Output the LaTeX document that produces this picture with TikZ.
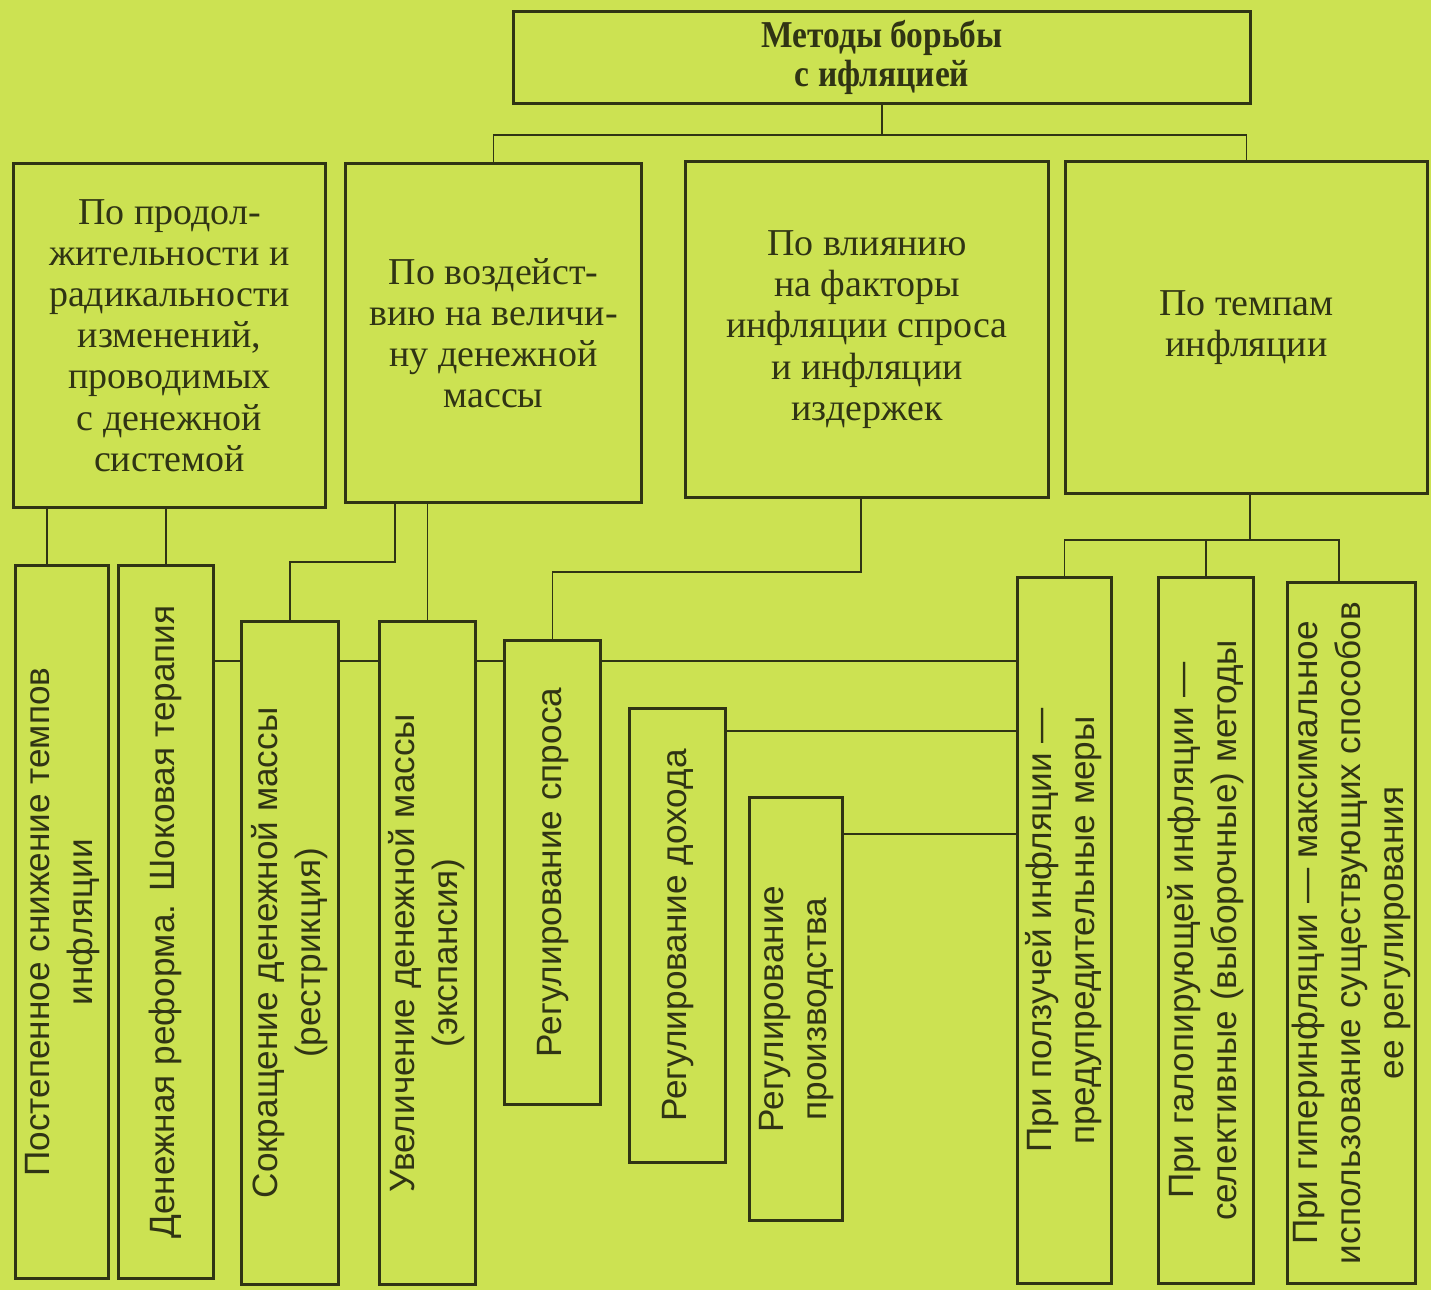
\documentclass[tikz,border=0pt]{standalone}
\usepackage{fontspec}
\setmainfont{Liberation Serif}
\setsansfont{Liberation Sans}
\newfontfamily\titlefont[FakeStretch=0.88]{Liberation Serif}
\usepackage{graphicx}
\usetikzlibrary{positioning, calc}
\definecolor{paper}{RGB}{204,226,82}
\definecolor{ink}{RGB}{48,52,20}
\tikzset{box/.style={draw=ink, line width=0.85pt, text=ink, align=center, inner sep=0pt, font=\fontsize{10.8}{11.7}\selectfont}}
\tikzset{vbox/.style={box, font=\sffamily\fontsize{10}{12.2}\selectfont}}
\tikzset{link/.style={draw=ink, line width=0.55pt}}
\newcommand{\vtext}[1]{\rotatebox{90}{\begin{tabular}{@{}c@{}}#1\end{tabular}}}

\begin{document}
\begin{tikzpicture}[x=0.01cm, y=-0.01cm]

  \fill[paper] (0,0) rectangle (1431,1290);
  \useasboundingbox (0,0) rectangle (1431,1290);

  % root
  \node[box, font=\titlefont\bfseries\fontsize{10.8}{11}\selectfont, minimum width=7.36cm, minimum height=0.91cm] (root) at (882,57.5) {Методы борьбы\\с ифляцией};

  % criteria
  \node[box, minimum width=3.11cm, minimum height=3.43cm] (dur) at (169.5,335.5) {По продол-\\жительности и\\радикальности\\изменений,\\проводимых\\с денежной\\системой};
  \node[box, minimum width=2.95cm, minimum height=3.38cm] (mass) at (493.5,333) {По воздейст-\\вию на величи-\\ну денежной\\массы};
  \node[box, minimum width=3.62cm, minimum height=3.35cm] (fact) at (867,329.5) {По влиянию\\на факторы\\инфляции спроса\\и инфляции\\издержек};
  \node[box, minimum width=3.61cm, minimum height=3.31cm] (rate) at (1246.5,327.5) {По темпам\\инфляции};

  % methods
  \node[vbox, minimum width=0.93cm, minimum height=7.12cm] (grad) at (62,922) {\vtext{Постепенное снижение темпов\\инфляции}};
  \node[vbox, minimum width=0.95cm, minimum height=7.12cm] (shock) at (166,922) {\vtext{Денежная реформа. Шоковая терапия}};
  \node[vbox, minimum width=0.97cm, minimum height=6.62cm] (restr) at (290,953) {\vtext{Сокращение денежной массы\\(рестрикция)}};
  \node[vbox, minimum width=0.96cm, minimum height=6.62cm] (expan) at (427.5,953) {\vtext{Увеличение денежной массы\\(экспансия)}};
  \node[vbox, minimum width=0.95cm, minimum height=4.63cm] (dem) at (552.5,872.5) {\vtext{Регулирование спроса}};
  \node[vbox, minimum width=0.95cm, minimum height=4.53cm] (inc) at (677.5,935.5) {\vtext{Регулирование дохода}};
  \node[vbox, minimum width=0.93cm, minimum height=4.22cm] (prod) at (796,1009) {\vtext{Регулирование\\производства}};
  \node[vbox, minimum width=0.94cm, minimum height=7.05cm] (creep) at (1064.5,930.5) {\vtext{При ползучей инфляции —\\предупредительные меры}};
  \node[vbox, minimum width=0.95cm, minimum height=7.05cm] (gallop) at (1206,930.5) {\vtext{При галопирующей инфляции —\\селективные (выборочные) методы}};
  \node[vbox, minimum width=1.27cm, minimum height=7.0cm] (hyper) at (1351.5,933) {\vtext{При гиперинфляции — максимальное\\использование существующих способов\\ее регулирования}};

  % levels of the connectors
  \coordinate (bar) at (0,135);
  \coordinate (kB) at (395,562);
  \coordinate (kC) at (861,572);
  \coordinate (kD) at (1250,540);
  \coordinate (lvl) at (0,661);
  \coordinate (l6) at (0,731);
  \coordinate (l7) at (0,834);

  \draw[link] (root.south) -- (root.south |- bar);
  \draw[link] (mass.north) -- (mass.north |- bar) -- (rate.north |- bar) -- (rate.north);

  \draw[link] ([xshift=-0.15cm]grad.north) -- ([xshift=-0.15cm]grad.north |- dur.south);
  \draw[link] (shock.north) -- (shock.north |- dur.south);
  \draw[link] (mass.south -| kB) -- (kB) -| (restr.north);
  \draw[link] (expan.north) -- (expan.north |- mass.south);
  \draw[link] (fact.south -| kC) -- (kC) -| (dem.north);
  \draw[link] (rate.south -| kD) -- (kD);
  \draw[link] (creep.north) |- ([xshift=-0.125cm]hyper.north |- kD) -- ([xshift=-0.125cm]hyper.north);
  \draw[link] (gallop.north) -- (gallop.north |- kD);

  \foreach \p/\q in {shock/restr, restr/expan, expan/dem, dem/creep}
    \draw[link] (\p.east |- lvl) -- (\q.west |- lvl);
  \draw[link] (inc.east |- l6) -- (creep.west |- l6);
  \draw[link] (prod.east |- l7) -- (creep.west |- l7);

\end{tikzpicture}
\end{document}
